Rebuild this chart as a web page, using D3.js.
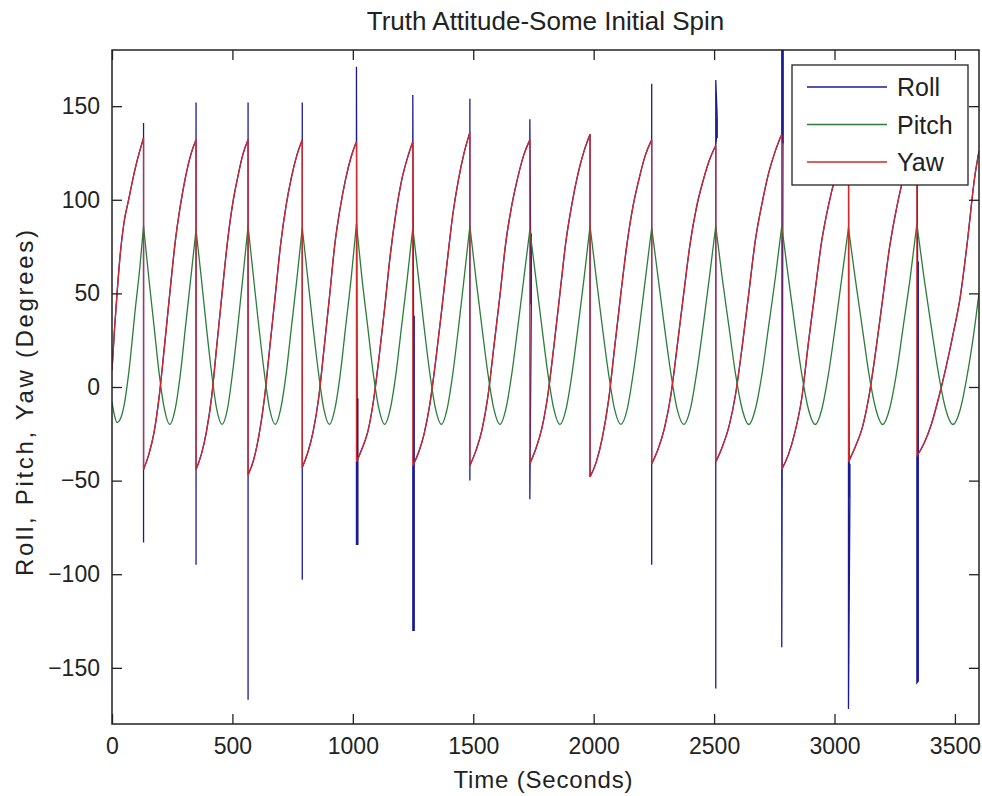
<!DOCTYPE html>
<html>
<head>
<meta charset="utf-8">
<script src="https://cdn.jsdelivr.net/npm/d3@7"></script>
<style>
  body { margin: 0; background: #fff; }
  svg text { font-family: "Liberation Sans", Arial, sans-serif; fill: #222; }
</style>
</head>
<body>
<div id="chart"></div>
<script>
// sample times (s), shared by all three series
var timeGrid = [
    0, 10, 21, 35, 50, 69, 97, 115, 131,
    153, 175, 196, 218, 240, 262, 284, 305, 327, 349,
    371, 392, 414, 435, 457, 479, 500, 522, 543, 565,
    588, 610, 633, 655, 678, 700, 723, 745, 768, 790,
    813, 835, 858, 880, 903, 925, 948, 970, 993, 1015,
    1038, 1062, 1085, 1109, 1132, 1155, 1179, 1202, 1226, 1249,
    1273, 1296, 1320, 1344, 1368, 1391, 1415, 1439, 1462, 1486,
    1511, 1536, 1561, 1586, 1611, 1635, 1660, 1685, 1710, 1735,
    1760, 1785, 1810, 1835, 1860, 1885, 1910, 1935, 1960, 1985,
    2011, 2036, 2062, 2087, 2113, 2139, 2164, 2190, 2215, 2241,
    2268, 2294, 2321, 2347, 2374, 2401, 2427, 2454, 2480, 2507,
    2534, 2562, 2589, 2617, 2644, 2671, 2699, 2726, 2754, 2781,
    2809, 2836, 2864, 2892, 2920, 2947, 2975, 3003, 3030, 3058,
    3086, 3115, 3143, 3172, 3200, 3228, 3257, 3285, 3314, 3342,
    3372, 3402, 3432, 3462, 3492, 3522, 3552, 3582, 3600
];

// yaw (deg); at a wrap time this is the value just after the wrap
var yawDeg = [
    9, 30, 50, 72, 88, 100, 117, 126, -44,
    -36, -24, -5, 22, 50, 77, 97, 112, 124, -44,
    -36, -24, -5, 22, 50, 77, 97, 112, 124, -47,
    -39, -26, -6, 21, 49, 76, 97, 112, 124, -43,
    -35, -24, -6, 20, 48, 76, 96, 111, 123, -40,
    -33, -24, -8, 16, 42, 70, 93, 110, 122, -42,
    -35, -25, -9, 14, 40, 66, 92, 111, 125, -42,
    -34, -23, -5, 22, 49, 77, 97, 112, 124, -41,
    -33, -22, -4, 22, 50, 78, 98, 114, 126, -48,
    -40, -27, -7, 21, 50, 77, 97, 112, 124, -41,
    -33, -22, -4, 22, 50, 77, 96, 110, 121, -40,
    -32, -21, -4, 22, 50, 78, 98, 114, 126, -44,
    -36, -24, -6, 24, 52, 78, 97, 112, 123, -40,
    -32, -22, -5, 20, 47, 74, 95, 111, 122, -37,
    -30, -20, -6, 10, 28, 48, 78, 112, 126
];

var pitchDeg = [
    -8, -15, -19, -17, -10, 7, 42, 63, 86,
    58, 32, 7, -12, -20, -12, 7, 32, 58, 84,
    58, 32, 7, -12, -20, -12, 7, 32, 58, 86,
    58, 32, 7, -12, -20, -12, 7, 32, 58, 85,
    58, 32, 7, -12, -20, -12, 7, 32, 58, 87,
    58, 32, 7, -12, -20, -12, 7, 32, 58, 85,
    58, 32, 7, -12, -20, -12, 7, 32, 58, 86,
    58, 32, 7, -12, -20, -12, 7, 32, 58, 84,
    58, 32, 7, -12, -20, -12, 7, 32, 58, 86,
    58, 32, 7, -12, -20, -12, 7, 32, 58, 85,
    58, 32, 7, -12, -20, -12, 7, 32, 58, 86,
    58, 32, 7, -12, -20, -12, 7, 32, 58, 86,
    58, 32, 7, -12, -20, -12, 7, 32, 58, 85,
    58, 32, 7, -12, -20, -12, 7, 32, 58, 87,
    58, 32, 7, -12, -20, -12, 7, 32, 50
];

// times where yaw wraps, and yaw just before each wrap
var jumpT = [131, 349, 565, 790, 1015, 1249, 1486, 1735, 1985, 2241, 2507, 2781, 3058, 3342];
var yawTop = [133, 132, 132, 132, 131, 131, 136, 132, 135, 132, 129, 135, 130, 130];

// roll follows yaw except for the spikes at each wrap
var rollSpikes = [
    [[131, 141], [131, -83]],
    [[349, 152], [349, -95]],
    [[565, 152], [565, -167]],
    [[790, 152], [790, -103]],
    [[1015, 171], [1018, -6], [1018, -84], [1021, -6], [1021, -84], [1015, -84]],
    [[1249, 156], [1252, 38], [1252, -130], [1255, 38], [1255, -130], [1249, -130]],
    [[1486, 154], [1486, -50]],
    [[1735, 143], [1738, 82], [1738, 44], [1741, 82], [1741, 44], [1735, -60]],
    [],
    [[2241, 162], [2241, -95]],
    [[2510, 133], [2510, 144], [2513, 133], [2513, 144], [2507, 164], [2507, -161]],
    [[2781, 182], [2784, 130], [2784, 182], [2787, 130], [2787, 182], [2781, -139]],
    [[3058, 160], [3061, -41], [3061, -59], [3064, -41], [3064, -59], [3058, -172]],
    [[3342, 150], [3345, 67], [3345, -157], [3348, 67], [3348, -157], [3342, -158]]
];

var xTicks = [0, 500, 1000, 1500, 2000, 2500, 3000, 3500];
var yTicks = [-150, -100, -50, 0, 50, 100, 150];
var seriesNames = ["Roll", "Pitch", "Yaw"];
var seriesColors = ["#1a1a96", "#2b7d3a", "#d02a2a"];

var width = 982,
    height = 796;
var plotLeft = 112, plotRight = 979, plotTop = 50, plotBottom = 724;

var svg = d3.select("#chart")
    .append("svg")
    .attr("width", width)
    .attr("height", height);

var x = d3.scaleLinear().domain([0, 3600]).range([plotLeft, plotRight]);
var y = d3.scaleLinear().domain([-180, 180]).range([plotBottom, plotTop]);

// split yaw at the wraps and pitch at its peaks (same instants)
var yawSegs = [], pitchSegs = [], spikeSegs = [];
var yawCur = [], pitchCur = [];
var j = 0;
timeGrid.forEach(function(t, i) {
    pitchCur.push([t, pitchDeg[i]]);
    if (j < jumpT.length && t === jumpT[j]) {
        yawCur.push([t, yawTop[j]]);
        yawSegs.push(yawCur);
        pitchSegs.push(pitchCur);
        spikeSegs.push([[t, yawTop[j]]].concat(rollSpikes[j], [[t, yawDeg[i]]]));
        yawCur = [];
        pitchCur = [[t, pitchDeg[i]]];
        j++;
    }
    yawCur.push([t, yawDeg[i]]);
});
yawSegs.push(yawCur);
pitchSegs.push(pitchCur);

svg.append("clipPath")
    .attr("id", "plot-clip")
    .append("rect")
    .attr("x", plotLeft)
    .attr("y", plotTop)
    .attr("width", plotRight - plotLeft)
    .attr("height", plotBottom - plotTop);

var smooth = d3.line()
    .x(function(d) { return x(d[0]) })
    .y(function(d) { return y(d[1]) })
    .curve(d3.curveMonotoneX);

var straight = d3.line()
    .x(function(d) { return x(d[0]) })
    .y(function(d) { return y(d[1]) });

var lines = svg.append("g")
    .attr("clip-path", "url(#plot-clip)")
    .attr("fill", "none")
    .attr("stroke-width", 1.3);

// roll: same track as yaw plus the spikes
lines.selectAll(".roll")
    .data(yawSegs)
    .enter().append("path")
    .attr("class", "roll")
    .attr("stroke", seriesColors[0])
    .attr("d", smooth);
lines.selectAll(".roll-spike")
    .data(spikeSegs)
    .enter().append("path")
    .attr("class", "roll-spike")
    .attr("stroke", seriesColors[0])
    .attr("d", straight);

lines.selectAll(".pitch")
    .data(pitchSegs)
    .enter().append("path")
    .attr("class", "pitch")
    .attr("stroke", seriesColors[1])
    .attr("d", smooth);

lines.selectAll(".yaw")
    .data(yawSegs)
    .enter().append("path")
    .attr("class", "yaw")
    .attr("stroke", seriesColors[2])
    .attr("d", function(d, i) {
        // draw the wrap down to the next segment's start
        var next = yawSegs[i + 1];
        return next ? smooth(d) + "L" + x(next[0][0]) + "," + y(next[0][1]) : smooth(d);
    });

// axes, ticks pointing inward on all four sides
var fontSize = 23;

svg.append("g")
    .attr("transform", "translate(0," + plotBottom + ")")
    .call(d3.axisBottom(x).tickValues(xTicks).tickFormat(d3.format("d")).tickSize(-10).tickPadding(14));
svg.append("g")
    .attr("transform", "translate(" + plotLeft + ",0)")
    .call(d3.axisLeft(y).tickValues(yTicks).tickFormat(d3.format("d")).tickSize(-10).tickPadding(12));
svg.append("g")
    .attr("transform", "translate(0," + plotTop + ")")
    .call(d3.axisTop(x).tickValues(xTicks).tickSize(-10).tickFormat(""));
svg.append("g")
    .attr("transform", "translate(" + plotRight + ",0)")
    .call(d3.axisRight(y).tickValues(yTicks).tickSize(-10).tickFormat(""));

svg.selectAll(".domain").remove();
svg.selectAll(".tick line").attr("stroke", "#222").attr("stroke-width", 1.3);
svg.selectAll(".tick text")
    .style("font-size", fontSize + "px")
    .style("font-family", "'Liberation Sans', Arial, sans-serif")
    .attr("fill", "#222");

svg.append("rect")
    .attr("x", plotLeft)
    .attr("y", plotTop)
    .attr("width", plotRight - plotLeft)
    .attr("height", plotBottom - plotTop)
    .attr("fill", "none")
    .attr("stroke", "#222")
    .attr("stroke-width", 1.5);

// titles
svg.append("text")
    .attr("x", (plotLeft + plotRight) / 2)
    .attr("y", 30)
    .attr("text-anchor", "middle")
    .style("font-size", "26px")
    .text("Truth Attitude-Some Initial Spin");

svg.append("text")
    .attr("x", 543)
    .attr("y", 788)
    .attr("text-anchor", "middle")
    .attr("textLength", 179)
    .attr("lengthAdjust", "spacing")
    .style("font-size", "24px")
    .text("Time (Seconds)");

svg.append("text")
    .attr("transform", "translate(33,403) rotate(-90)")
    .attr("text-anchor", "middle")
    .attr("textLength", 346)
    .attr("lengthAdjust", "spacing")
    .style("font-size", "24px")
    .text("Roll, Pitch, Yaw (Degrees)");

// legend
var legend = svg.append("g").attr("transform", "translate(792,65)");
legend.append("rect")
    .attr("width", 176)
    .attr("height", 120)
    .attr("fill", "#fff")
    .attr("stroke", "#222")
    .attr("stroke-width", 1.3);

var item = legend.selectAll(".item")
    .data(seriesNames)
    .enter().append("g")
    .attr("class", "item")
    .attr("transform", function(d, i) { return "translate(0," + (22 + i * 37.5) + ")" });

item.append("line")
    .attr("x1", 15)
    .attr("x2", 95)
    .attr("stroke", function(d, i) { return seriesColors[i] })
    .attr("stroke-width", 1.3);

item.append("text")
    .attr("x", 105)
    .attr("dy", "0.36em")
    .style("font-size", "25px")
    .text(function(d) { return d });
</script>
</body>
</html>
